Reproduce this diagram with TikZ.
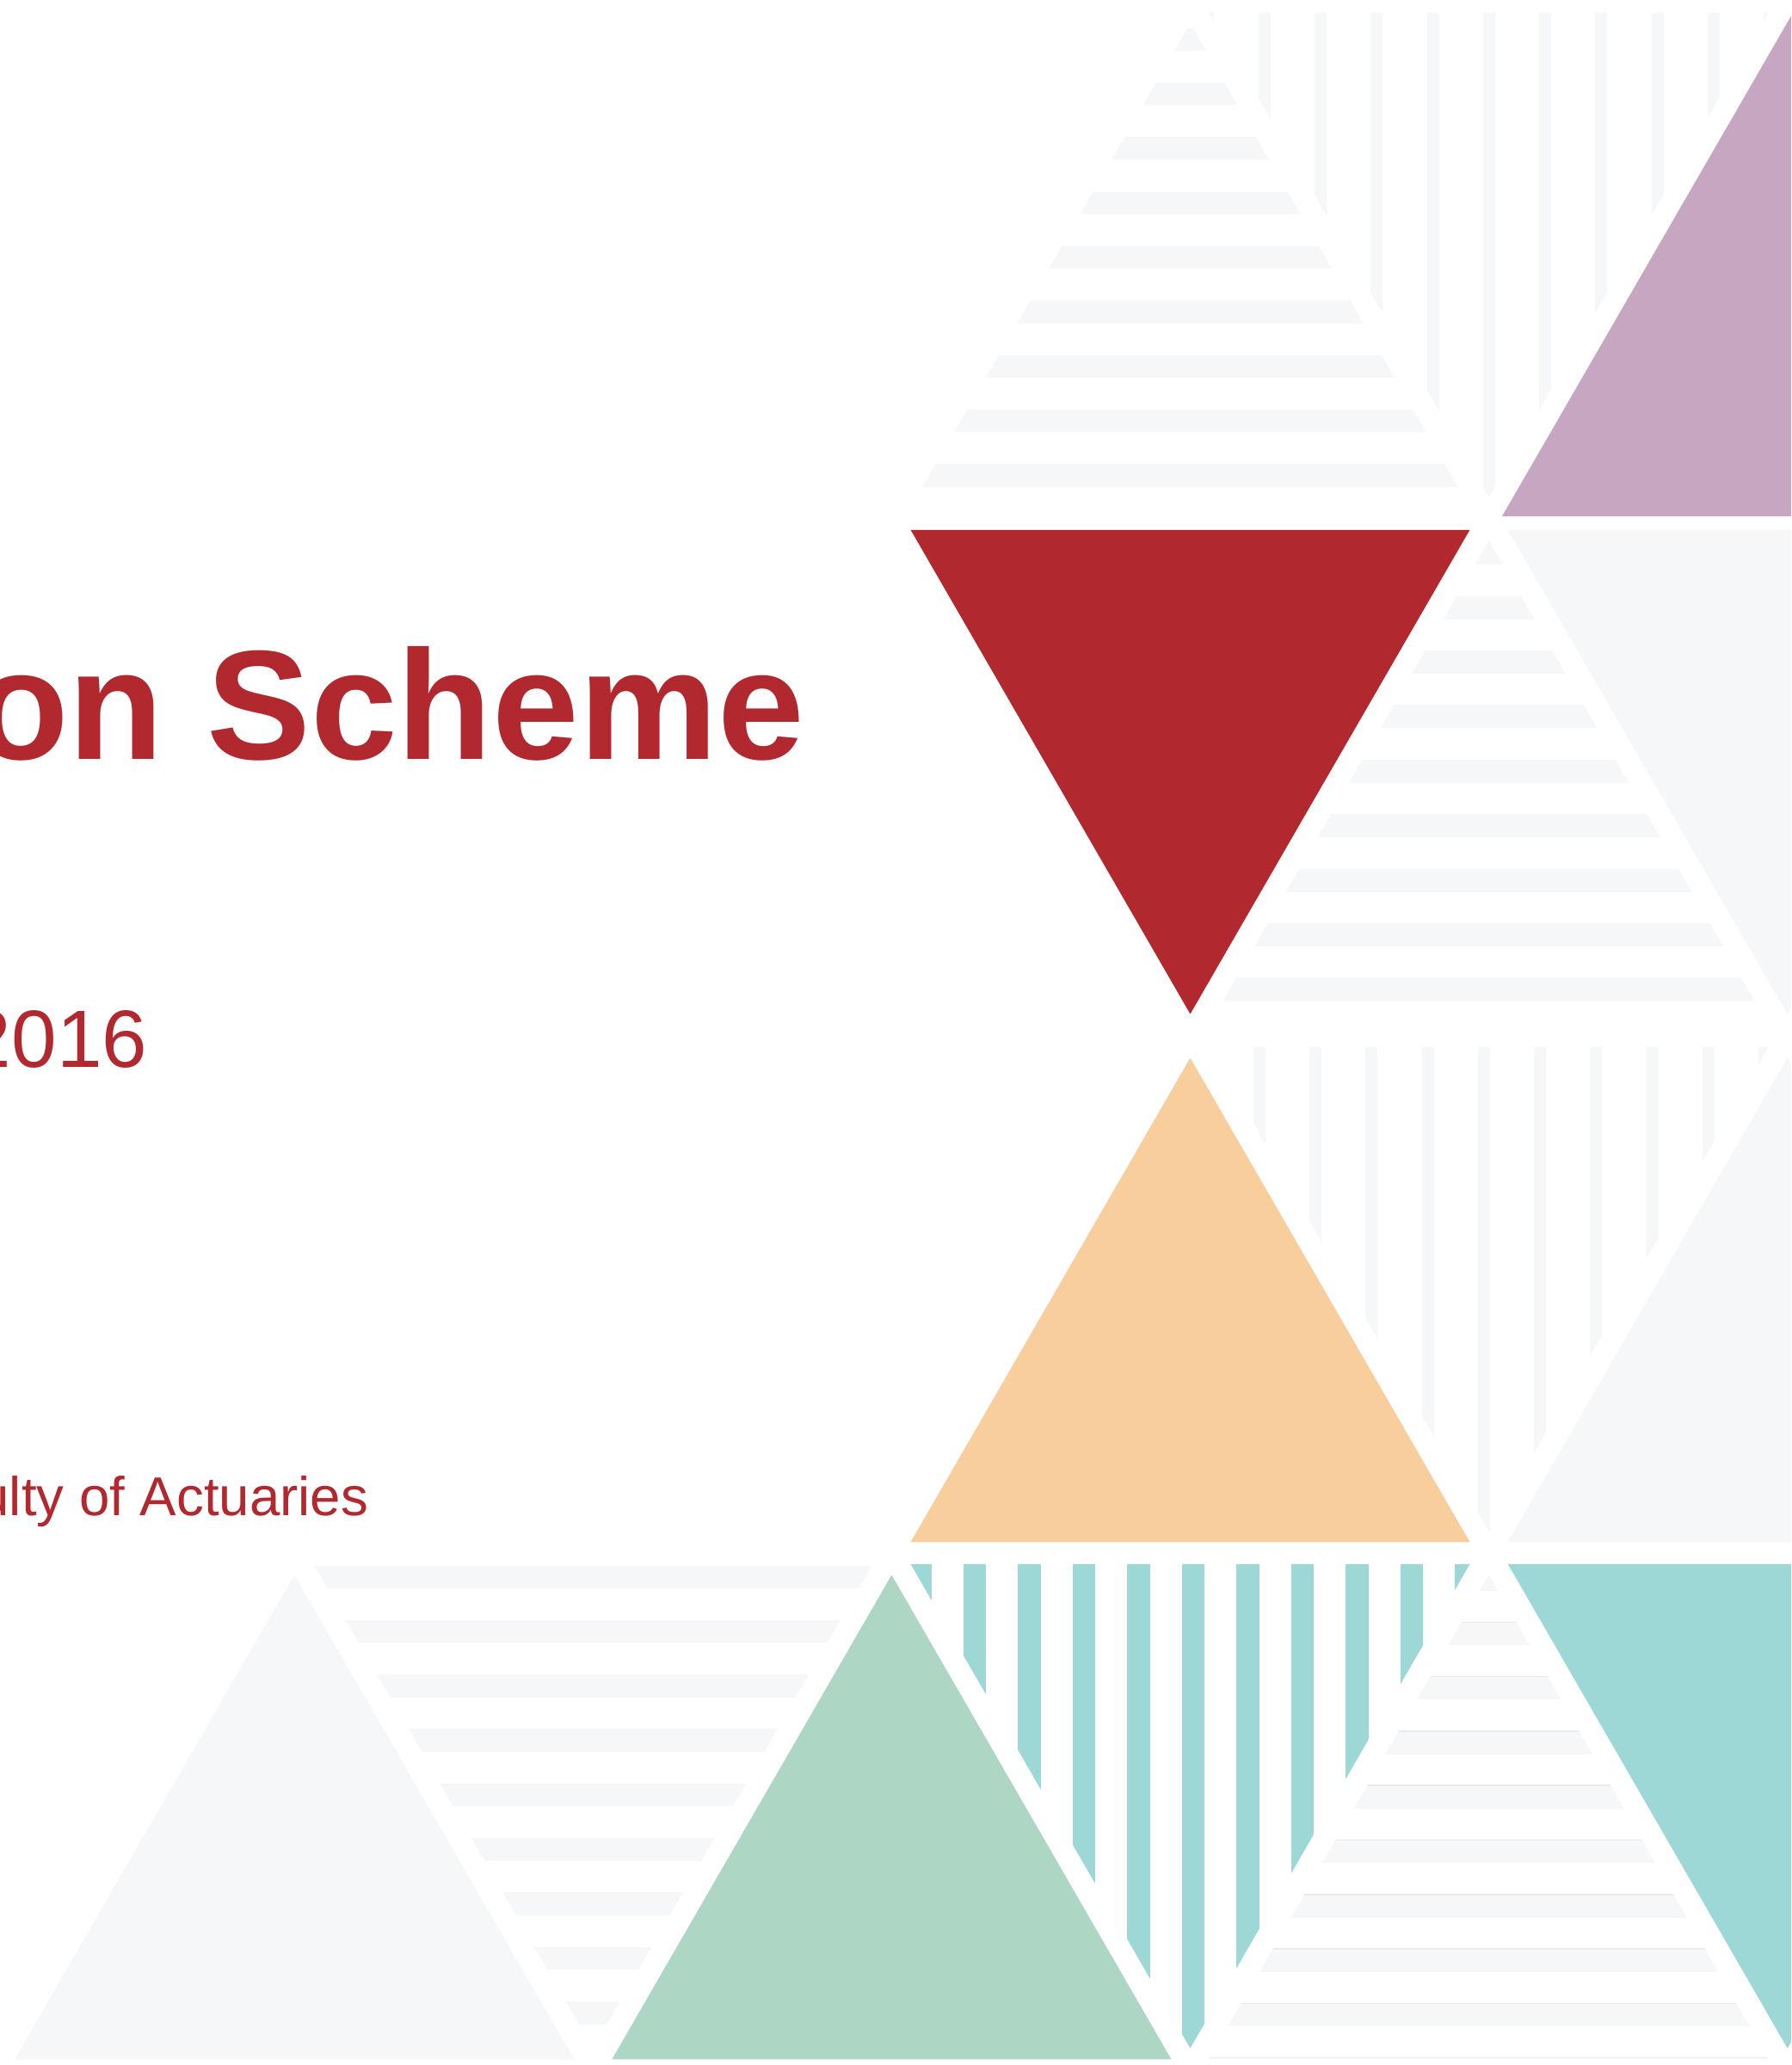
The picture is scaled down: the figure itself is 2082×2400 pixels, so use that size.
\documentclass[tikz,border=0pt]{standalone}
\usepackage{fontspec}
\setmainfont{Liberation Sans}
\definecolor{iared}{HTML}{B1282F}
\definecolor{iapurple}{HTML}{C7A6C1}
\definecolor{iaorange}{HTML}{F8CE9C}
\definecolor{iagreen}{HTML}{ADD6C4}
\definecolor{iateal}{HTML}{9DD8D6}
\definecolor{iagrey}{HTML}{F6F7F9}
\definecolor{iagreyline}{HTML}{E9EBEE}
\newcommand\UpTri[3]{({#1},{#2+25.5}) -- ({#1+325},{#3-12.75}) -- ({#1-325},{#3-12.75}) -- cycle}
\newcommand\DnTri[3]{({#1-325},{#2+12.75}) -- ({#1+325},{#2+12.75}) -- ({#1},{#3-25.5}) -- cycle}
\tikzset{
  titletext/.style={anchor=base west, inner sep=0pt, text=iared},
}
\begin{document}
\begin{tikzpicture}[x=1pt,y=-1pt]
\useasboundingbox (0,0) rectangle (2082,2400);
\clip (0,0) rectangle (2082,2400);
\fill[white] (0,0) rectangle (2082,2400);

% ---------- Row 0 ----------
\begin{scope}
  \clip \UpTri{1383.5}{2}{603};
  \foreach \j in {0,...,8}
    \fill[iagrey] (1000,{32.7+63.3*\j}) rectangle (1800,{32.7+63.3*\j+26.5});
\end{scope}
\begin{scope}
  \clip \DnTri{1730.6}{2}{603};
  \foreach \j in {0,...,10}
    \fill[iagrey] ({1397.3+65.3*\j},0) rectangle ({1397.3+65.3*\j+14},700);
\end{scope}
\fill[iapurple] (1746,600) -- (2084,15) -- (2422,600) -- cycle;

% ---------- Row 1 ----------
\fill[iared] \DnTri{1383.5}{603}{1204};
\begin{scope}
  \clip \UpTri{1730.6}{603}{1204};
  \foreach \j in {0,...,8}
    \fill[iagrey] (1300,{629.4+63.35*\j}) rectangle (2200,{629.4+63.35*\j+27});
\end{scope}
\fill[iagrey] \DnTri{2077.7}{603}{1204};

% ---------- Row 2 ----------
\fill[iaorange] \UpTri{1383.5}{1204}{1805};
\begin{scope}
  \clip \DnTri{1730.6}{1204}{1805};
  \foreach \j in {0,...,10}
    \fill[iagrey] ({1456.6+65.3*\j},1200) rectangle ({1456.6+65.3*\j+14},1810);
\end{scope}
\fill[iagrey] \UpTri{2077.7}{1204}{1805};

% ---------- Row 3 ----------
\fill[iagrey] \UpTri{342.2}{1805}{2406};
\begin{scope}
  \clip \DnTri{689.3}{1805}{2406};
  \foreach \j in {0,...,8}
    \fill[iagrey] (300,{1819.5+63.3*\j}) rectangle (1100,{1819.5+63.3*\j+26.6});
\end{scope}
\fill[iagreen] \UpTri{1036.4}{1805}{2406};
\begin{scope}
  \clip \DnTri{1383.5}{1805}{2406};
  \foreach \j in {0,...,10}
    \fill[iateal] ({1056.2+63.5*\j},1800) rectangle ({1056.2+63.5*\j+26.5},2410);
\end{scope}
\begin{scope}
  \clip \UpTri{1730.6}{1805}{2406};
  \foreach \j in {0,...,9}{
    \fill[iagrey] (1300,{1821.2+63.3*\j}) rectangle (2200,{1821.2+63.3*\j+27.5});
    \fill[iagreyline] (1300,{1821.2+63.3*\j}) rectangle (2200,{1821.2+63.3*\j+1.5});
  }
\end{scope}
\fill[iateal] \DnTri{2077.7}{1805}{2406};

% ---------- Text ----------
\node[titletext, font=\fontsize{181}{200}\selectfont\bfseries] (title) at (-31,882.5) {on Scheme};
\node[titletext, font=\fontsize{94.5}{110}\selectfont] (year) at (-39.2,1240) {2016};
\node[titletext, font=\fontsize{63.6}{75}\selectfont] (org) at (-24.6,1761.7) {ulty of Actuaries};
\end{tikzpicture}
\end{document}
